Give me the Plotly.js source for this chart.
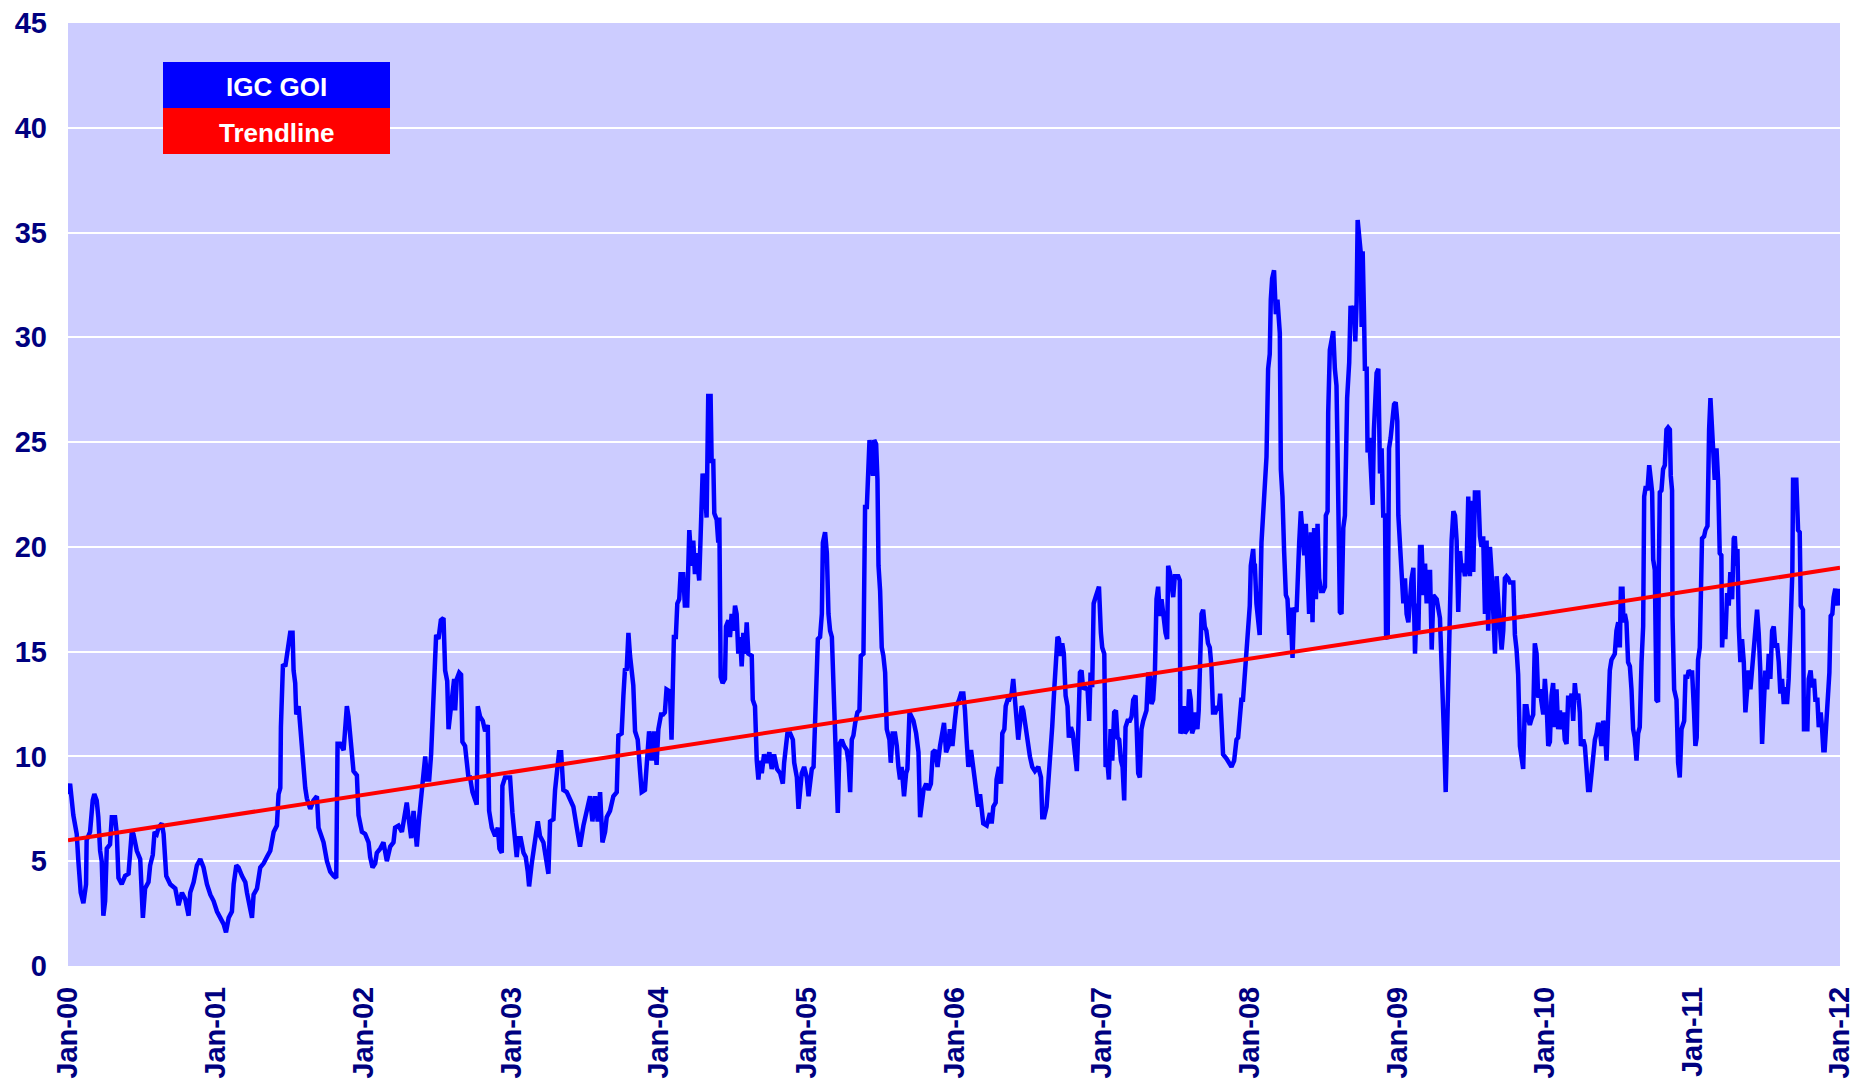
<!DOCTYPE html>
<html>
<head>
<meta charset="utf-8">
<script src="https://cdn.plot.ly/plotly-3.0.1.min.js"></script>
<style>html,body{margin:0;padding:0;background:#fff;}#chart{width:1854px;height:1086px;}</style>
</head>
<body>
<div id="chart"></div>
<script>
// IGC GOI readings: [decimal year, value]
const seg2000 = [[2000.000,8.2],[2000.014,8.7],[2000.036,7.2],[2000.059,6.3],[2000.070,5.0],[2000.086,3.5],[2000.104,3.0],[2000.122,3.9],[2000.126,6.0],[2000.149,6.4],[2000.167,7.9],[2000.178,8.2],[2000.194,7.9],[2000.205,7.1],[2000.217,5.5],[2000.228,5.0],[2000.239,2.4],[2000.251,3.1],[2000.262,5.6],[2000.284,5.8],[2000.296,7.1],[2000.318,7.1],[2000.330,6.3],[2000.341,4.2],[2000.363,3.9],[2000.386,4.3],[2000.409,4.4],[2000.420,5.9],[2000.431,6.4],[2000.442,6.3],[2000.465,5.5],[2000.488,5.1],[2000.499,3.0],[2000.506,2.3],[2000.521,3.7],[2000.544,4.0],[2000.555,4.8],[2000.573,5.3],[2000.585,6.4],[2000.600,6.3],[2000.612,6.6],[2000.634,6.8],[2000.646,6.3],[2000.664,4.3],[2000.691,3.9],[2000.725,3.7],[2000.747,2.9],[2000.770,3.5],[2000.792,3.2],[2000.815,2.4],[2000.826,3.5],[2000.849,4.0],[2000.871,4.8],[2000.894,5.1],[2000.916,4.7],[2000.939,3.9],[2000.962,3.4],[2000.984,3.1],[2001.007,2.6],[2001.029,2.3],[2001.052,2.0],[2001.068,1.6],[2001.086,2.3],[2001.108,2.6],[2001.120,3.9],[2001.138,4.8],[2001.153,4.7],[2001.176,4.3],[2001.199,4.0],[2001.210,3.5],[2001.228,2.9],[2001.244,2.3],[2001.255,3.4],[2001.278,3.7],[2001.300,4.7],[2001.323,4.9],[2001.345,5.2],[2001.368,5.5],[2001.391,6.4],[2001.413,6.7],[2001.424,8.2],[2001.436,8.5],[2001.440,11.4],[2001.454,14.4],[2001.470,14.3],[2001.481,14.9],[2001.503,15.9],[2001.519,15.9],[2001.526,14.1],[2001.537,13.5],[2001.544,12.0],[2001.560,12.4],[2001.571,11.4],[2001.582,10.1],[2001.594,9.0],[2001.605,8.5],[2001.616,8.0],[2001.628,7.7],[2001.639,7.5],[2001.661,7.9],[2001.684,8.1],[2001.695,6.6],[2001.729,5.9],[2001.752,5.0],[2001.774,4.5],[2001.797,4.3],[2001.815,4.2],[2001.824,10.6],[2001.842,10.6],[2001.865,10.3],[2001.887,12.4],[2001.898,11.9],[2001.921,10.3],[2001.932,9.3],[2001.955,9.1],[2001.966,7.2],[2001.989,6.4],[2002.011,6.3]];
const seg2002 = [[2002.034,5.9],[2002.045,5.2],[2002.061,4.7],[2002.079,4.9],[2002.090,5.4],[2002.113,5.6],[2002.135,5.9],[2002.158,5.0],[2002.181,5.7],[2002.203,5.9],[2002.214,6.6],[2002.237,6.7],[2002.260,6.4],[2002.282,7.6],[2002.293,7.8],[2002.305,7.1],[2002.323,6.1],[2002.339,7.4],[2002.361,5.7],[2002.377,7.1],[2002.395,8.3],[2002.406,9.1],[2002.418,10.0],[2002.429,8.9],[2002.445,8.9],[2002.458,10.1],[2002.467,11.7],[2002.481,13.6],[2002.492,15.8],[2002.508,15.6],[2002.524,16.5],[2002.542,16.6],[2002.553,14.1],[2002.567,13.6],[2002.576,11.3],[2002.587,12.0],[2002.598,12.9],[2002.614,13.7],[2002.621,12.2],[2002.632,13.7],[2002.648,14.0],[2002.661,13.9],[2002.670,10.7],[2002.688,10.5],[2002.711,9.0],[2002.722,9.0],[2002.738,8.3],[2002.756,7.8],[2002.767,7.7],[2002.774,12.4],[2002.790,11.9],[2002.808,11.7],[2002.824,11.2],[2002.842,11.5],[2002.851,7.4],[2002.869,6.6],[2002.892,6.2],[2002.910,6.6],[2002.921,5.6],[2002.937,5.4],[2002.941,8.6],[2002.959,9.0],[2002.993,9.0],[2003.009,7.3],[2003.027,5.7],[2003.038,5.2],[2003.050,6.1],[2003.065,6.1],[2003.084,5.4],[2003.099,5.2],[2003.113,4.5],[2003.122,3.8],[2003.140,4.9],[2003.163,6.2],[2003.181,6.9],[2003.196,6.2],[2003.219,5.9],[2003.235,5.2],[2003.253,4.4],[2003.264,6.9],[2003.287,7.0],[2003.298,8.4],[2003.309,9.3],[2003.325,10.2],[2003.339,10.2],[2003.354,8.4],[2003.377,8.3],[2003.400,7.9],[2003.422,7.6],[2003.445,6.6],[2003.467,5.7],[2003.490,6.7],[2003.512,7.4],[2003.535,8.1],[2003.551,6.9],[2003.569,8.1],[2003.587,6.9],[2003.603,8.3],[2003.619,5.9],[2003.637,6.4],[2003.648,7.1],[2003.670,7.4],[2003.693,8.1],[2003.716,8.3],[2003.727,11.0],[2003.749,11.1],[2003.761,12.9],[2003.772,14.2],[2003.783,14.1],[2003.795,15.9],[2003.806,14.8],[2003.817,14.1],[2003.828,13.4],[2003.840,11.2],[2003.858,10.8],[2003.874,9.3],[2003.885,8.3],[2003.907,8.4],[2003.919,9.6],[2003.935,11.2],[2003.953,9.8],[2003.968,11.2],[2003.986,9.6],[2003.998,11.3],[2004.016,12.0],[2004.030,12.0]];
const seg2004 = [[2004.042,12.1],[2004.053,13.2],[2004.076,13.1],[2004.087,10.8],[2004.094,12.9],[2004.103,15.7],[2004.116,15.7],[2004.126,17.3],[2004.139,17.5],[2004.148,18.7],[2004.166,18.7],[2004.177,17.2],[2004.193,17.2],[2004.200,18.9],[2004.207,20.8],[2004.223,19.1],[2004.234,20.3],[2004.245,18.7],[2004.256,19.7],[2004.274,18.4],[2004.284,21.4],[2004.297,23.5],[2004.313,22.6],[2004.324,21.4],[2004.335,27.2],[2004.351,27.2],[2004.358,24.1],[2004.369,24.1],[2004.376,21.6],[2004.392,21.3],[2004.403,20.2],[2004.410,21.4],[2004.419,13.8],[2004.432,13.5],[2004.448,13.7],[2004.455,16.2],[2004.471,16.5],[2004.482,15.7],[2004.493,16.8],[2004.505,16.0],[2004.516,17.2],[2004.527,16.8],[2004.538,14.9],[2004.550,15.7],[2004.561,14.3],[2004.572,15.9],[2004.584,14.9],[2004.595,16.4],[2004.606,14.9],[2004.629,14.8],[2004.636,12.7],[2004.651,12.4],[2004.663,9.8],[2004.674,8.9],[2004.685,9.8],[2004.697,9.2],[2004.712,10.1],[2004.730,9.7],[2004.748,10.2],[2004.764,9.4],[2004.780,10.1],[2004.800,9.4],[2004.821,9.2],[2004.839,8.7],[2004.848,9.7],[2004.862,10.5],[2004.870,11.1],[2004.889,11.1],[2004.907,10.8],[2004.916,9.7],[2004.934,9.0],[2004.945,7.5],[2004.956,8.6],[2004.967,9.2],[2004.983,9.5],[2005.001,9.0],[2005.013,8.1],[2005.024,8.6],[2005.035,9.4],[2005.047,9.5],[2005.058,13.0],[2005.069,14.1],[2005.076,15.6],[2005.091,15.7],[2005.103,16.8],[2005.110,20.2],[2005.125,20.7],[2005.137,19.7],[2005.148,16.8],[2005.159,16.0],[2005.171,15.7],[2005.182,13.2],[2005.193,11.3],[2005.204,8.9],[2005.211,7.3],[2005.223,10.6],[2005.238,10.8],[2005.254,10.5],[2005.272,10.3],[2005.284,9.7],[2005.295,8.3],[2005.306,10.8],[2005.317,11.0],[2005.329,11.6],[2005.344,12.1],[2005.358,12.2],[2005.367,14.8],[2005.385,14.9],[2005.396,21.9],[2005.408,21.9],[2005.419,23.5],[2005.426,25.1],[2005.435,24.3],[2005.449,23.4],[2005.458,25.1],[2005.471,24.9],[2005.480,23.2],[2005.487,19.1],[2005.498,17.9],[2005.509,15.2],[2005.520,14.8],[2005.532,14.0],[2005.543,11.3],[2005.561,10.8],[2005.570,9.7],[2005.583,11.1],[2005.599,11.1],[2005.611,10.5],[2005.622,9.5],[2005.633,8.9],[2005.644,9.5],[2005.660,8.1],[2005.674,9.2],[2005.683,9.4],[2005.697,12.1],[2005.713,11.9],[2005.724,11.7],[2005.742,11.1],[2005.758,10.2],[2005.769,7.1],[2005.781,7.8],[2005.792,8.4],[2005.810,8.7],[2005.826,8.4],[2005.842,8.7],[2005.855,10.2],[2005.871,10.3],[2005.887,9.5],[2005.904,10.5],[2005.922,11.1],[2005.931,11.6],[2005.945,10.2],[2005.961,10.5],[2005.970,11.3],[2005.988,10.5],[2006.004,11.7],[2006.015,12.4],[2006.033,12.7]];
const seg2006 = [[2006.046,13.0],[2006.062,13.0],[2006.073,12.2],[2006.084,10.8],[2006.096,9.5],[2006.114,10.3],[2006.130,9.5],[2006.141,9.0],[2006.152,8.1],[2006.163,7.6],[2006.175,8.2],[2006.186,7.4],[2006.197,6.8],[2006.220,6.7],[2006.242,7.3],[2006.254,6.8],[2006.265,7.6],[2006.281,7.8],[2006.287,8.9],[2006.303,9.5],[2006.317,8.7],[2006.326,11.1],[2006.340,11.3],[2006.349,12.4],[2006.362,12.7],[2006.373,12.7],[2006.389,13.0],[2006.400,13.7],[2006.412,12.7],[2006.423,11.6],[2006.434,10.8],[2006.446,11.6],[2006.457,12.4],[2006.468,12.2],[2006.479,11.6],[2006.491,11.3],[2006.502,10.5],[2006.513,10.0],[2006.529,9.5],[2006.547,9.3],[2006.570,9.5],[2006.588,9.0],[2006.597,7.1],[2006.610,7.1],[2006.626,7.6],[2006.637,8.7],[2006.655,9.8],[2006.664,11.4],[2006.678,13.2],[2006.689,14.4],[2006.700,15.7],[2006.709,15.6],[2006.721,14.8],[2006.732,15.4],[2006.743,14.9],[2006.755,12.9],[2006.768,12.4],[2006.777,10.9],[2006.791,11.4],[2006.804,11.1],[2006.818,10.2],[2006.831,9.3],[2006.840,11.1],[2006.852,14.0],[2006.863,14.1],[2006.874,13.2],[2006.886,13.3],[2006.904,13.2],[2006.915,11.7],[2006.924,14.0],[2006.935,13.3],[2006.945,17.3],[2006.958,17.6],[2006.972,18.0],[2006.981,18.1],[2006.994,15.9],[2007.003,15.2],[2007.017,14.9],[2007.026,9.5],[2007.039,9.7],[2007.048,8.9],[2007.060,11.3],[2007.071,9.8],[2007.084,12.1],[2007.096,12.2],[2007.107,10.9],[2007.118,10.8],[2007.130,9.8],[2007.141,9.5],[2007.152,7.9],[2007.161,11.4],[2007.175,11.7],[2007.190,11.7],[2007.202,11.9],[2007.213,12.7],[2007.229,12.9],[2007.236,10.9],[2007.247,9.2],[2007.258,9.0],[2007.269,11.3],[2007.281,11.7],[2007.292,11.9],[2007.303,12.2],[2007.315,14.0],[2007.326,13.8],[2007.337,12.5],[2007.348,12.7],[2007.360,14.0],[2007.371,17.5],[2007.382,18.1],[2007.394,16.7],[2007.405,17.5],[2007.416,16.8],[2007.432,15.9],[2007.443,15.6],[2007.450,19.1],[2007.461,18.8],[2007.473,18.1],[2007.484,17.6],[2007.495,18.6],[2007.518,18.6],[2007.529,18.4],[2007.533,11.1],[2007.545,11.3],[2007.556,12.4],[2007.563,11.1],[2007.581,11.3],[2007.592,13.2],[2007.603,12.7],[2007.612,11.1],[2007.626,11.4],[2007.635,12.1],[2007.648,11.3],[2007.657,12.2],[2007.664,14.9],[2007.676,16.8],[2007.687,17.0],[2007.698,16.2],[2007.709,16.0],[2007.720,15.4],[2007.732,15.2],[2007.743,14.3],[2007.754,12.1],[2007.770,12.1],[2007.784,12.4],[2007.793,12.2],[2007.802,13.0],[2007.811,11.9],[2007.822,10.1],[2007.845,9.9],[2007.861,9.7],[2007.879,9.5],[2007.897,9.8],[2007.913,10.8],[2007.924,10.9],[2007.935,11.7],[2007.946,12.7],[2007.957,12.7],[2007.969,14.0],[2007.980,14.6],[2007.991,16.4],[2008.003,17.2],[2008.010,19.1],[2008.026,19.9],[2008.033,18.9]];
const seg2008 = [[2008.037,19.2],[2008.048,17.3],[2008.059,16.4],[2008.070,15.8],[2008.082,20.2],[2008.093,21.8],[2008.104,23.0],[2008.116,24.3],[2008.127,28.5],[2008.138,29.2],[2008.145,31.8],[2008.154,32.8],[2008.167,33.2],[2008.179,31.1],[2008.190,31.8],[2008.199,30.5],[2008.206,30.2],[2008.213,23.7],[2008.224,22.4],[2008.235,19.8],[2008.247,17.7],[2008.258,17.5],[2008.269,15.8],[2008.278,17.1],[2008.292,14.7],[2008.303,17.1],[2008.319,16.9],[2008.337,20.2],[2008.348,21.7],[2008.359,20.7],[2008.371,19.6],[2008.382,21.1],[2008.393,19.0],[2008.404,16.8],[2008.416,20.7],[2008.427,16.4],[2008.438,20.9],[2008.450,17.5],[2008.461,21.1],[2008.472,18.5],[2008.484,17.9],[2008.499,17.9],[2008.511,18.1],[2008.517,21.5],[2008.529,21.7],[2008.533,26.4],[2008.544,29.4],[2008.556,30.0],[2008.567,30.3],[2008.578,28.5],[2008.589,27.7],[2008.594,25.6],[2008.605,21.1],[2008.612,16.9],[2008.623,16.8],[2008.635,20.9],[2008.646,21.5],[2008.652,23.7],[2008.661,27.1],[2008.675,28.8],[2008.684,31.5],[2008.696,30.9],[2008.707,31.5],[2008.716,29.8],[2008.725,31.7],[2008.732,35.6],[2008.743,34.7],[2008.752,34.1],[2008.759,30.5],[2008.766,34.1],[2008.775,31.1],[2008.781,28.5],[2008.793,28.5],[2008.799,24.5],[2008.811,25.2],[2008.822,23.4],[2008.833,22.0],[2008.842,25.6],[2008.851,27.7],[2008.860,28.3],[2008.872,28.5],[2008.883,23.5],[2008.894,24.7],[2008.905,21.5],[2008.917,21.5],[2008.924,15.8],[2008.935,15.6],[2008.944,24.7],[2008.955,25.2],[2008.967,26.4],[2008.978,26.8],[2008.989,26.9],[2009.000,26.0],[2009.007,21.5],[2009.018,20.0],[2009.025,19.4],[2009.032,17.5],[2009.041,17.3],[2009.052,18.5],[2009.063,16.8],[2009.075,16.4],[2009.086,17.5],[2009.097,18.5],[2009.109,19.0],[2009.120,14.9],[2009.131,17.3],[2009.143,16.0],[2009.154,20.0],[2009.165,20.0],[2009.177,17.7],[2009.188,19.2],[2009.199,17.3],[2009.210,18.8],[2009.222,18.8],[2009.233,15.1],[2009.244,17.7],[2009.267,17.5],[2009.289,16.6],[2009.301,14.5],[2009.312,12.4],[2009.319,10.5],[2009.328,8.3],[2009.335,10.5],[2009.346,14.9],[2009.357,18.8],[2009.368,20.3],[2009.380,21.7],[2009.391,21.5],[2009.402,20.3],[2009.413,16.9],[2009.425,19.8],[2009.436,18.8],[2009.447,19.2],[2009.458,18.6],[2009.470,19.2],[2009.481,22.4],[2009.492,18.6],[2009.504,22.2],[2009.515,18.8],[2009.526,22.6],[2009.549,22.6],[2009.560,20.5],[2009.571,20.0],[2009.582,20.5],[2009.594,16.8],[2009.605,20.3],[2009.616,16.0],[2009.628,20.0],[2009.639,18.8],[2009.650,16.6],[2009.662,14.9],[2009.673,18.6],[2009.684,16.8],[2009.695,16.2],[2009.707,15.1],[2009.718,16.0],[2009.729,18.5],[2009.740,18.6],[2009.752,18.5],[2009.763,18.3],[2009.786,18.3],[2009.797,15.8],[2009.808,15.1],[2009.819,13.9],[2009.831,10.5],[2009.842,10.0],[2009.853,9.4],[2009.864,12.4],[2009.876,12.4],[2009.887,11.8],[2009.898,11.5],[2009.910,11.8],[2009.921,12.0],[2009.932,15.4],[2009.944,14.9],[2009.955,12.8],[2009.966,13.2],[2009.977,12.6],[2009.989,12.0],[2010.000,13.7],[2010.011,12.6],[2010.023,10.5],[2010.034,10.7]];
const seg2010 = [[2010.045,12.9],[2010.056,13.5],[2010.068,11.4],[2010.079,13.2],[2010.090,11.3],[2010.102,12.2],[2010.113,11.3],[2010.124,12.1],[2010.135,10.8],[2010.147,10.6],[2010.158,12.9],[2010.169,12.4],[2010.181,13.0],[2010.192,11.7],[2010.203,13.5],[2010.214,12.7],[2010.226,13.0],[2010.237,12.1],[2010.244,10.5],[2010.260,10.8],[2010.271,10.5],[2010.282,8.9],[2010.293,8.4],[2010.305,8.4],[2010.316,9.2],[2010.327,10.0],[2010.339,10.8],[2010.350,11.1],[2010.361,11.6],[2010.372,11.3],[2010.384,10.5],[2010.395,11.7],[2010.406,11.4],[2010.418,9.8],[2010.429,12.7],[2010.440,14.1],[2010.451,14.6],[2010.463,14.8],[2010.474,14.9],[2010.485,16.0],[2010.497,16.4],[2010.508,15.2],[2010.515,18.0],[2010.526,18.0],[2010.533,16.4],[2010.542,16.8],[2010.553,16.4],[2010.564,14.5],[2010.576,14.3],[2010.587,13.2],[2010.598,11.3],[2010.609,10.9],[2010.621,9.8],[2010.632,11.1],[2010.643,11.4],[2010.655,14.5],[2010.666,16.2],[2010.673,22.4],[2010.684,22.9],[2010.695,22.7],[2010.707,23.9],[2010.718,23.2],[2010.727,22.6],[2010.734,19.4],[2010.745,18.9],[2010.756,12.7],[2010.767,12.6],[2010.772,18.8],[2010.779,22.6],[2010.790,22.7],[2010.801,23.7],[2010.813,23.9],[2010.824,25.6],[2010.835,25.7],[2010.847,25.6],[2010.853,23.4],[2010.862,22.7],[2010.865,16.7],[2010.876,13.2],[2010.892,12.7],[2010.903,9.7],[2010.914,9.0],[2010.926,11.3],[2010.944,11.7],[2010.953,13.8],[2010.966,13.8],[2010.975,14.1],[2010.989,14.0],[2010.998,14.0],[2011.011,12.1],[2011.020,10.5],[2011.029,10.9],[2011.038,14.6],[2011.050,15.2],[2011.056,18.8],[2011.065,20.4],[2011.079,20.5],[2011.088,20.8],[2011.102,21.0],[2011.106,24.8],[2011.113,25.6],[2011.122,27.1],[2011.129,25.5],[2011.140,24.7],[2011.151,23.2],[2011.163,24.7],[2011.174,23.2],[2011.185,19.7],[2011.196,19.6],[2011.201,15.2],[2011.212,16.7],[2011.223,15.6],[2011.235,17.8],[2011.246,17.2],[2011.257,18.8],[2011.269,17.5],[2011.280,20.4],[2011.287,20.5],[2011.298,19.1],[2011.305,19.9],[2011.314,16.2],[2011.325,14.5],[2011.336,15.6],[2011.348,14.5],[2011.359,12.1],[2011.370,13.0],[2011.381,14.1],[2011.393,13.2],[2011.404,14.1],[2011.415,15.4],[2011.427,16.5],[2011.438,17.0],[2011.449,15.9],[2011.460,14.1],[2011.472,10.6],[2011.483,12.1],[2011.494,14.1],[2011.506,13.2],[2011.517,14.9],[2011.528,13.7],[2011.540,16.0],[2011.551,16.2],[2011.562,15.2],[2011.573,15.4],[2011.585,14.5],[2011.596,13.0],[2011.607,13.7],[2011.619,12.5],[2011.630,13.3],[2011.641,12.5],[2011.652,13.7],[2011.664,16.0],[2011.670,17.3],[2011.677,18.8],[2011.682,23.2],[2011.704,23.2],[2011.716,20.8],[2011.727,20.7],[2011.734,17.2],[2011.749,17.0],[2011.756,11.3],[2011.779,11.3],[2011.788,13.7],[2011.801,14.1],[2011.810,13.3],[2011.824,13.7],[2011.833,12.7],[2011.847,12.7],[2011.856,11.4],[2011.869,12.1],[2011.878,11.4],[2011.887,10.3],[2011.896,10.3],[2011.903,11.3],[2011.912,11.9],[2011.919,13.5],[2011.928,14.0],[2011.937,16.7],[2011.948,16.8],[2011.957,17.6],[2011.968,18.0],[2011.980,17.2],[2011.986,18.0],[2011.993,17.2]];

// Trendline end points
const trendDates = ['2000-01-01', '2012-01-01'];
const trendValues = [6.0, 19.0];

const seriesNames = ['IGC GOI', 'Trendline'];
const yTicks = [0, 5, 10, 15, 20, 25, 30, 35, 40, 45];

function yearToDate(t) {
  const y = Math.floor(t);
  const a = Date.UTC(y, 0, 1), b = Date.UTC(y + 1, 0, 1);
  const d = new Date(a + (t - y) * (b - a));
  const p = n => String(n).padStart(2, '0');
  return d.getUTCFullYear() + '-' + p(d.getUTCMonth() + 1) + '-' + p(d.getUTCDate()) + ' ' + p(d.getUTCHours()) + ':' + p(d.getUTCMinutes());
}

const all = [].concat(seg2000, seg2002, seg2004, seg2006, seg2008, seg2010);
const igcX = all.map(p => yearToDate(p[0]));
const igcY = all.map(p => p[1]);

const FONT = 'Liberation Sans, Arial, sans-serif';
const NAVY = '#000080';

const data = [
  { x: igcX, y: igcY, type: 'scatter', mode: 'lines', name: seriesNames[0],
    line: { color: '#0000FF', width: 4.5 }, hoverinfo: 'x+y' },
  { x: trendDates, y: trendValues, type: 'scatter', mode: 'lines', name: seriesNames[1],
    line: { color: '#FF0000', width: 4 } }
];

const px = v => (v - 68) / 1772;   // paper x from pixel
const py = v => (966 - v) / 943;   // paper y from pixel

const layout = {
  width: 1854, height: 1086,
  margin: { l: 68, r: 14, t: 23, b: 120, pad: 0 },
  paper_bgcolor: '#FFFFFF',
  plot_bgcolor: '#CCCCFF',
  showlegend: false,
  font: { family: FONT, color: NAVY },
  xaxis: {
    type: 'date',
    range: ['2000-01-01', '2012-01-01'],
    tick0: '2000-01-01', dtick: 'M12',
    tickformat: '%b-%y',
    tickangle: -90,
    ticks: '', showgrid: false, zeroline: false, showline: false,
    ticklabelstandoff: 14,
    ticklabeloverflow: 'allow',
    tickfont: { family: FONT, size: 29, color: NAVY, weight: 'bold' }
  },
  yaxis: {
    range: [0, 45],
    tickvals: yTicks,
    ticks: '', showline: false, zeroline: false,
    showgrid: true, gridcolor: '#FFFFFF', gridwidth: 2,
    ticklabelstandoff: 20,
    ticklabeloverflow: 'allow',
    tickfont: { family: FONT, size: 29, color: NAVY, weight: 'bold' }
  },
  shapes: [
    { type: 'rect', xref: 'paper', yref: 'paper', x0: px(163), x1: px(390), y0: py(108), y1: py(62),
      fillcolor: '#0000FF', line: { width: 0 }, layer: 'above' },
    { type: 'rect', xref: 'paper', yref: 'paper', x0: px(163), x1: px(390), y0: py(154), y1: py(108),
      fillcolor: '#FF0000', line: { width: 0 }, layer: 'above' }
  ],
  annotations: [
    { xref: 'paper', yref: 'paper', x: px(276.5), y: py(87), xanchor: 'center', yanchor: 'middle',
      text: seriesNames[0], showarrow: false, font: { family: FONT, size: 26, color: '#FFFFFF', weight: 'bold' } },
    { xref: 'paper', yref: 'paper', x: px(276.5), y: py(133), xanchor: 'center', yanchor: 'middle',
      text: seriesNames[1], showarrow: false, font: { family: FONT, size: 26, color: '#FFFFFF', weight: 'bold' } }
  ]
};

Plotly.newPlot('chart', data, layout, { staticPlot: true, displayModeBar: false });
</script>
</body>
</html>
